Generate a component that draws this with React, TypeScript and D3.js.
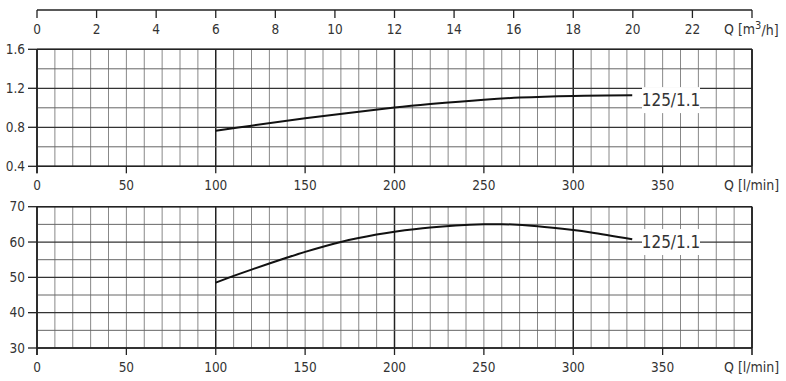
import React from "react";
import * as d3 from "d3";

const m3hTicks = [0, 2, 4, 6, 8, 10, 12, 14, 16, 18, 20, 22];
const lminTicks = [0, 50, 100, 150, 200, 250, 300, 350];
const topYTicks = [0.4, 0.8, 1.2, 1.6];
const botYTicks = [30, 40, 50, 60, 70];

const topFlow = [100, 120, 150, 200, 220, 250, 270, 300, 333];
const topValues = [0.765, 0.817, 0.892, 1.002, 1.038, 1.083, 1.105, 1.122, 1.128];
const bottomFlow = [100, 110, 120, 140, 150, 170, 190, 200, 220, 250, 260, 280, 300, 310, 333];
const bottomValues = [48.5, 50.4, 52.2, 55.6, 57.2, 60.0, 62.1, 62.9, 64.1, 65.0, 65.05, 64.5, 63.4, 62.7, 60.8];
const curveLabel = "125/1.1";

const FONT = "'DejaVu Sans Condensed', 'DejaVu Sans', sans-serif";

export default function App() {
  const x = d3.scaleLinear().domain([0, 400]).range([37, 752]);
  const xm = d3.scaleLinear().domain([0, 24]).range([37, 752]);
  const yT = d3.scaleLinear().domain([0.4, 1.6]).range([166.3, 49.3]);
  const yB = d3.scaleLinear().domain([30, 70]).range([348, 206.7]);

  const vGrid = d3.range(0, 401, 10);
  const topH = d3.range(0.4, 1.61, 0.2);
  const botH = d3.range(30, 70.1, 5);

  const lineT = d3
    .line<number>()
    .x((_, i) => x(topFlow[i]))
    .y((d) => yT(d))
    .curve(d3.curveCatmullRom.alpha(0.5));
  const lineB = d3
    .line<number>()
    .x((_, i) => x(bottomFlow[i]))
    .y((d) => yB(d))
    .curve(d3.curveCatmullRom.alpha(0.5));

  const panel = (y: d3.ScaleLinear<number, number>, hs: number[], labeled: number[], key: string) => {
    const [y0, y1] = y.range();
    return (
      <g key={key}>
        {vGrid.map((v) => {
          const major = v % 100 === 0;
          return (
            <line
              key={"v" + v}
              x1={x(v)}
              x2={x(v)}
              y1={y1}
              y2={y0}
              stroke={major ? "#222" : "#888"}
              strokeWidth={major ? 1.5 : 1}
            />
          );
        })}
        {hs.map((h) => {
          const lab = labeled.some((l) => Math.abs(l - h) < 1e-6);
          return (
            <line
              key={"h" + h}
              x1={x(0)}
              x2={x(400)}
              y1={y(h)}
              y2={y(h)}
              stroke={lab ? "#333" : "#666"}
              strokeWidth={lab ? 1.3 : 1}
            />
          );
        })}
        <line x1={x(0)} x2={x(400)} y1={y1} y2={y1} stroke="#222" strokeWidth={1.6} />
        <line x1={x(0)} x2={x(400)} y1={y0} y2={y0} stroke="#222" strokeWidth={1.6} />
        <line x1={x(0)} x2={x(0)} y1={y1} y2={y0 + 7} stroke="#222" strokeWidth={1.6} />
        <line x1={x(400)} x2={x(400)} y1={y1} y2={y0 + 7} stroke="#222" strokeWidth={1.6} />
        {labeled.map((t) => (
          <g key={"yt" + t}>
            <line x1={28} x2={x(0)} y1={y(t)} y2={y(t)} stroke="#222" strokeWidth={1.3} />
            <text x={25} y={y(t)} dy="0.35em" textAnchor="end" fontSize={13.5} fill="#333" fontFamily={FONT}>
              {t.toFixed(key === "top" ? 1 : 0)}
            </text>
          </g>
        ))}
        {lminTicks.map((t) => (
          <g key={"xt" + t}>
            <line x1={x(t)} x2={x(t)} y1={y0} y2={y0 + 7} stroke="#222" strokeWidth={1.3} />
            <text x={x(t)} y={y0 + 19} dy="0.35em" textAnchor="middle" fontSize={13.5} fill="#333" fontFamily={FONT}>
              {t}
            </text>
          </g>
        ))}
        <text x={724} y={y0 + 19} dy="0.35em" fontSize={14} fill="#333" fontFamily={FONT}>
          Q [l/min]
        </text>
      </g>
    );
  };

  const label = (cy: number) => (
    <g>
      <rect x={642} y={cy - 13} width={58} height={26} fill="#fff" />
      <text x={671} y={cy} dy="0.36em" textAnchor="middle" fontSize={17} fill="#333" fontFamily={FONT}>
        {curveLabel}
      </text>
    </g>
  );

  return (
    <svg width={786} height={381} style={{ position: "absolute", left: 0, top: 0, background: "#fff" }}>
      <rect width={786} height={381} fill="#fff" />
      <line x1={xm(0)} x2={xm(24)} y1={10} y2={10} stroke="#222" strokeWidth={1.5} />
      {[...m3hTicks, 24].map((t) => (
        <line key={"m" + t} x1={xm(t)} x2={xm(t)} y1={10} y2={18} stroke="#222" strokeWidth={1.3} />
      ))}
      {m3hTicks.map((t) => (
        <text key={"ml" + t} x={xm(t)} y={29} dy="0.35em" textAnchor="middle" fontSize={13.5} fill="#333" fontFamily={FONT}>
          {t}
        </text>
      ))}
      <text x={724} y={29} dy="0.35em" fontSize={14} fill="#333" fontFamily={FONT}>
        Q [m<tspan dy="-0.45em" fontSize={11}>3</tspan>
        <tspan dy="0.45em">/h]</tspan>
      </text>

      {panel(yT, topH, topYTicks, "top")}
      {panel(yB, botH, botYTicks, "bot")}

      {label(yT(1.12) + 4)}
      {label(yB(60))}

      <path d={lineT(topValues) || ""} fill="none" stroke="#111" strokeWidth={2} />
      <path d={lineB(bottomValues) || ""} fill="none" stroke="#111" strokeWidth={2} />
    </svg>
  );
}
